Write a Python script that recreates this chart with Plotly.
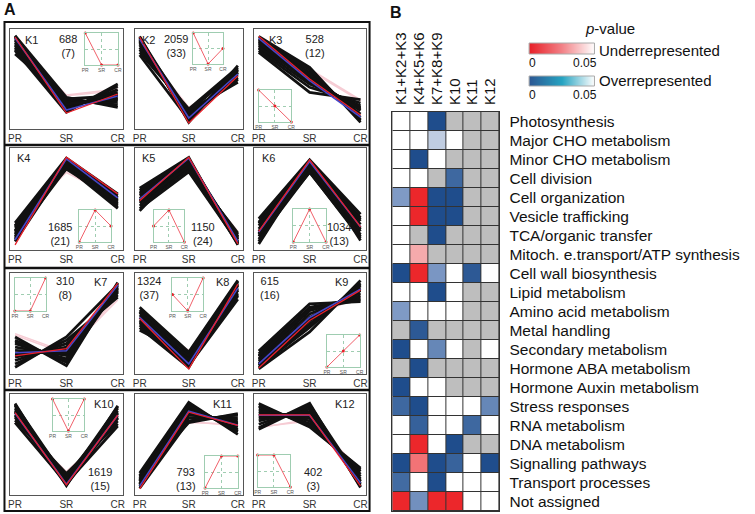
import plotly.graph_objects as go

W, H = 755, 514

# ---------------- Panel A data ----------------
stages = ["PR", "SR", "CR"]
cluster_names = ["K1", "K2", "K3", "K4", "K5", "K6", "K7", "K8", "K9", "K10", "K11", "K12"]
gene_counts = [688, 2059, 528, 1685, 1150, 1034, 310, 1324, 615, 1619, 793, 402]
tf_counts = [7, 33, 12, 21, 24, 13, 8, 37, 16, 15, 13, 3]

# member profiles (standardised expression) at PR, SR, CR
k1_pr = [1.30, 1.25, 1.20, 1.15, 1.10, 1.05, 1.00, 0.95, 0.90, 0.85, 0.75, 1.28]
k1_sr = [-0.55, -0.62, -0.68, -0.72, -0.78, -0.82, -0.86, -0.90, -0.95, -1.00, -0.60, -0.75]
k1_cr = [-0.85, -0.78, -0.70, -0.62, -0.55, -0.48, -0.40, -0.32, -0.22, -0.15, -0.50, -0.60]
k2_pr = [1.28, 1.22, 1.18, 1.12, 1.08, 1.02, 0.95, 0.88, 0.80, 0.72, 1.25, 1.15]
k2_sr = [-1.30, -1.25, -1.20, -1.15, -1.10, -1.05, -1.00, -0.95, -0.90, -1.22, -1.12, -0.98]
k2_cr = [0.40, 0.30, 0.25, 0.18, 0.12, 0.05, -0.02, -0.10, 0.35, 0.20, 0.00, 0.28]
k3_pr = [1.28, 1.22, 1.18, 1.12, 1.05, 1.00, 0.92, 0.85, 0.80, 1.15, 1.08, 0.95]
k3_sr = [0.35, 0.28, 0.20, 0.12, 0.05, -0.05, -0.15, -0.25, -0.40, 0.30, -0.10, 0.00]
k3_cr = [-1.30, -1.22, -1.15, -1.05, -0.95, -0.88, -0.80, -0.72, -0.62, -1.25, -0.85, -0.92]
k4_pr = [-0.70, -0.78, -0.85, -0.92, -1.00, -1.05, -1.10, -1.15, -1.20, -1.25, -0.80, -0.95]
k4_sr = [1.20, 1.15, 1.10, 1.05, 1.00, 0.95, 0.90, 1.18, 1.12, 1.02, 0.88, 0.98]
k4_cr = [0.15, 0.05, -0.05, -0.12, -0.20, -0.28, 0.10, 0.00, -0.15, -0.25, -0.08, 0.12]
k5_pr = [0.32, 0.25, 0.18, 0.10, 0.02, -0.05, -0.12, -0.20, -0.28, -0.35, 0.15, -0.08]
k5_sr = [1.22, 1.18, 1.12, 1.08, 1.02, 0.98, 0.92, 0.88, 0.80, 1.15, 1.05, 0.95]
k5_cr = [-1.35, -1.30, -1.25, -1.20, -1.15, -1.10, -1.05, -1.00, -1.28, -1.18, -1.12, -1.32]
k6_pr = [-0.58, -0.68, -0.78, -0.88, -0.95, -1.02, -1.10, -1.18, -1.25, -1.32, -0.72, -1.05]
k6_sr = [1.15, 1.10, 1.05, 1.00, 0.95, 0.90, 0.85, 0.80, 1.12, 1.02, 0.92, 0.78]
k6_cr = [-0.45, -0.55, -0.65, -0.75, -0.85, -0.95, -1.05, -1.15, -1.22, -0.60, -0.90, -1.10]
k7_pr = [-0.40, -0.50, -0.60, -0.70, -0.80, -0.90, -1.00, -1.10, -1.20, -1.30, -0.55, -0.95]
k7_sr = [-1.25, -1.15, -1.05, -0.95, -0.88, -0.80, -0.70, -0.60, -0.50, -0.40, -1.10, -0.75]
k7_cr = [1.22, 1.18, 1.12, 1.08, 1.02, 0.98, 0.92, 0.85, 0.78, 1.15, 1.05, 0.95]
k8_pr = [0.48, 0.40, 0.32, 0.25, 0.18, 0.10, 0.02, -0.05, -0.12, -0.20, 0.35, 0.05]
k8_sr = [-0.85, -0.92, -1.00, -1.05, -1.10, -1.15, -1.20, -1.25, -1.30, -0.95, -1.18, -1.08]
k8_cr = [1.28, 1.20, 1.12, 1.05, 0.98, 0.90, 0.82, 0.72, 1.15, 1.00, 0.85, 1.25]
k9_pr = [-0.82, -0.90, -0.98, -1.05, -1.12, -1.18, -1.25, -1.30, -1.35, -0.95, -1.08, -1.22]
k9_sr = [0.58, 0.48, 0.38, 0.28, 0.18, 0.08, -0.02, -0.12, -0.25, 0.42, 0.12, -0.05]
k9_cr = [0.65, 0.75, 0.82, 0.90, 0.98, 1.05, 1.12, 1.20, 1.28, 0.70, 1.00, 1.15]
k10_pr = [1.22, 1.15, 1.08, 1.02, 0.95, 0.88, 0.80, 0.72, 0.65, 1.18, 0.98, 0.85]
k10_sr = [-1.22, -1.18, -1.12, -1.08, -1.02, -0.98, -0.92, -0.86, -1.15, -1.05, -0.95, -1.20]
k10_cr = [1.15, 1.08, 1.00, 0.92, 0.85, 0.78, 0.70, 0.62, 0.55, 1.12, 0.95, 0.80]
k11_pr = [-0.85, -0.92, -1.00, -1.05, -1.10, -1.15, -1.20, -1.25, -1.30, -0.95, -1.08, -1.18]
k11_sr = [1.25, 1.18, 1.10, 1.05, 1.00, 0.95, 0.88, 0.80, 0.70, 0.65, 1.15, 0.92]
k11_cr = [0.30, 0.38, 0.45, 0.52, 0.58, 0.65, 0.72, 0.80, 0.88, 0.92, 0.40, 0.62]
k12_pr = [1.22, 1.12, 1.05, 0.98, 0.92, 0.85, 0.78, 0.70, 0.60, 0.50, 1.15, 0.45]
k12_sr = [0.52, 0.62, 0.70, 0.78, 0.82, 0.90, 0.98, 1.05, 1.12, 1.22, 0.58, 1.18]
k12_cr = [-0.70, -0.80, -0.88, -0.95, -1.02, -1.08, -1.15, -1.20, -1.25, -1.28, -0.75, -1.10]

# low-membership (pink) profiles
pink_profiles = [
    [[1.10, -0.48, -0.30], [1.00, -0.50, -0.35]],
    [[1.00, -0.85, 0.10], [0.90, -0.88, 0.05]],
    [[1.05, 0.30, -0.63], [0.95, 0.25, -0.66]],
    [[-0.70, 0.78, 0.00], [-0.75, 0.85, -0.10]],
    [[0.10, 0.78, -0.95], [0.05, 0.82, -0.98]],
    [[-0.80, 0.78, -0.50], [-0.90, 0.80, -0.55]],
    [[-0.30, -0.85, 0.70], [-0.35, -0.90, 0.80]],
    [[0.20, -0.80, 0.75], [0.10, -0.85, 0.80]],
    [[-1.00, 0.10, 0.85], [-0.95, 0.20, 0.80]],
    [[0.70, -0.80, 0.55], [0.65, -0.85, 0.60]],
    [[-1.10, 0.65, 0.60], [-1.00, 0.68, 0.55]],
    [[0.52, 0.70, -0.72], [0.50, 0.75, -0.75]],
]
# cluster mean (blue) and representative profile (red)
mean_profiles = [
    [1.23, -0.93, -0.51], [1.20, -1.17, 0.15], [1.22, -0.05, -1.14],
    [-1.20, 1.18, 0.03], [0.00, 1.20, -1.25], [-0.97, 1.10, -0.82],
    [-0.87, -0.81, 1.14], [0.18, -1.20, 1.05], [-1.20, 0.18, 1.02],
    [0.93, -1.18, 0.87], [-1.23, 0.99, 0.57], [0.87, 0.87, -1.14],
]
rep_profiles = [
    [1.26, -1.02, -0.45], [1.26, -1.32, 0.09], [1.28, 0.00, -1.08],
    [-1.35, 1.23, 0.15], [-0.05, 1.23, -1.32], [-0.95, 1.15, -0.82],
    [-0.96, -0.75, 1.20], [0.15, -1.35, 1.17], [-1.32, 0.09, 0.99],
    [0.95, -1.20, 0.87], [-1.32, 0.96, 0.57], [0.88, 0.88, -1.23],
]
# idealised patterns shown in the insets
inset_patterns = [
    [1, 0, 0], [1, 0, 0.5], [1, 0.5, 0],
    [0, 1, 0.5], [0.5, 1, 0], [0, 1, 0],
    [0, 0, 1], [0.5, 0, 1], [0, 0.5, 1],
    [1, 0, 1], [0, 1, 1], [1, 1, 0],
]

member_pr = [k1_pr, k2_pr, k3_pr, k4_pr, k5_pr, k6_pr, k7_pr, k8_pr, k9_pr, k10_pr, k11_pr, k12_pr]
member_sr = [k1_sr, k2_sr, k3_sr, k4_sr, k5_sr, k6_sr, k7_sr, k8_sr, k9_sr, k10_sr, k11_sr, k12_sr]
member_cr = [k1_cr, k2_cr, k3_cr, k4_cr, k5_cr, k6_cr, k7_cr, k8_cr, k9_cr, k10_cr, k11_cr, k12_cr]

# ---------------- Panel B data ----------------
groups = ["K1+K2+K3", "K4+K5+K6", "K7+K8+K9", "K10", "K11", "K12"]
categories = [
    "Photosynthesis", "Major CHO metabolism", "Minor CHO metabolism", "Cell division",
    "Cell organization", "Vesicle trafficking", "TCA/organic transfer",
    "Mitoch. e.transport/ATP synthesis", "Cell wall biosynthesis", "Lipid metabolism",
    "Amino acid metabolism", "Metal handling", "Secondary metabolism",
    "Hormone ABA metabolism", "Hormone Auxin metabolism", "Stress responses",
    "RNA metabolism", "DNA metabolism", "Signalling pathways", "Transport processes",
    "Not assigned",
]
# O = overrepresented, U = underrepresented, N = not significant, X = not tested
status = [
    "NNOXXX", "NNONXX", "NONXXX", "NNXOXX", "OUOOXX", "NUOOXX", "NXOXXX",
    "NUXXXX", "OUONON", "NNONXX", "ONNNXX", "XOXXXX", "ONONXN", "XOXXXX",
    "ONNXXX", "OONNNO", "NONNON", "NUNOXX", "OUOONO", "ONONNN", "UOUUNN",
]
pvals = [
    [None, None, 0.001, None, None, None],
    [None, None, 0.042, None, None, None],
    [None, 0.001, None, None, None, None],
    [None, None, None, 0.012, None, None],
    [0.028, 0.001, 0.001, 0.001, None, None],
    [None, 0.001, 0.001, 0.001, None, None],
    [None, None, 0.001, None, None, None],
    [None, 0.032, None, None, None, None],
    [0.001, 0.001, 0.027, None, 0.006, None],
    [None, None, 0.001, None, None, None],
    [0.028, None, None, None, None, None],
    [None, 0.006, None, None, None, None],
    [0.001, None, 0.022, None, None, None],
    [None, 0.001, None, None, None, None],
    [0.001, None, None, None, None, None],
    [0.012, 0.001, None, None, None, 0.022],
    [None, 0.009, None, None, 0.012, None],
    [None, 0.001, None, 0.001, None, None],
    [0.001, 0.018, 0.001, 0.010, None, 0.001],
    [0.013, None, 0.001, None, None, None],
    [0.001, 0.025, 0.001, 0.001, None, None],
]
legend_ticks = [0, 0.05]

# ---------------- build figure ----------------
FONT = "Liberation Sans, Arial, sans-serif"
fig = go.Figure()
layout = dict(
    width=W, height=H, margin=dict(l=0, r=0, t=0, b=0),
    paper_bgcolor="white", plot_bgcolor="rgba(0,0,0,0)", showlegend=False,
    font=dict(family=FONT, color="#222"),
)
annotations = []
shapes = []


def ann(text, x, y, size, color="#222", xanchor="center", bold=False):
    annotations.append(dict(
        text=text, x=x / W, y=1 - y / H, xref="paper", yref="paper",
        xanchor=xanchor, yanchor="middle", showarrow=False,
        font=dict(size=size, color=color, family=FONT,
                  weight="bold" if bold else "normal"),
    ))


col_px = [(7, 121), (133, 242), (253, 366)]
row_px = [(29, 129), (148, 250), (273, 374), (394, 495)]
inset_px = [
    (83, 116, 33, 65), (192, 222, 33, 64), (258, 291, 90, 122),
    (77, 109, 210, 242), (152, 183, 210, 242), (293, 326, 209, 242),
    (12, 43, 278, 311), (171, 202, 278, 311), (327, 360, 335, 367),
    (50, 82, 399, 431), (204, 237, 456, 488), (257, 290, 455, 487),
]
name_px = [(29, 40), (147, 40), (275, 40), (21, 158), (147, 158), (268, 158),
           (98, 282), (222, 282), (342, 282), (102, 404), (222, 404), (345, 404)]
count_px = [(66, 40), (175, 40), (315, 40), (58, 228), (202, 228), (339, 228),
            (63, 282), (147, 282), (270, 282), (98, 473), (185, 473), (313, 473)]
GRID_GREEN = "#9fcdb1"

for i in range(12):
    r, c = divmod(i, 3)
    n = i + 1
    sfx = "" if n == 1 else str(n)
    x0, x1 = col_px[c]
    y0, y1 = row_px[r]
    layout["xaxis" + sfx] = dict(
        domain=[x0 / W, x1 / W], anchor="y" + sfx, range=[-0.1, 2.1],
        tickvals=[0, 1, 2], ticktext=stages, ticks="", showgrid=False, zeroline=False,
        showline=True, mirror=True, linecolor="#555", linewidth=1.3,
        tickfont=dict(size=10, color="#333"), fixedrange=True,
    )
    layout["yaxis" + sfx] = dict(
        domain=[1 - y1 / H, 1 - y0 / H], anchor="x" + sfx, range=[-1.5, 1.5],
        showticklabels=False, showgrid=False, zeroline=False,
        showline=True, mirror=True, linecolor="#555", linewidth=1.3, fixedrange=True,
    )
    # pink lines
    xs, ys = [], []
    for prof in pink_profiles[i]:
        xs += [0, 1, 2, None]
        ys += list(prof) + [None]
    fig.add_trace(go.Scatter(x=xs, y=ys, mode="lines", xaxis="x" + sfx, yaxis="y" + sfx,
                             line=dict(color="#f6ccd4", width=1.5), hoverinfo="skip"))
    # black member lines
    xs, ys = [], []
    for a, b, cc in zip(member_pr[i], member_sr[i], member_cr[i]):
        xs += [0, 1, 2, None]
        ys += [a, b, cc, None]
    fig.add_trace(go.Scatter(x=xs, y=ys, mode="lines", xaxis="x" + sfx, yaxis="y" + sfx,
                             line=dict(color="#111", width=2.8), hoverinfo="skip"))
    fig.add_trace(go.Scatter(x=[0, 1, 2], y=mean_profiles[i], mode="lines",
                             xaxis="x" + sfx, yaxis="y" + sfx,
                             line=dict(color="#4646c8", width=1.6)))
    fig.add_trace(go.Scatter(x=[0, 1, 2], y=rep_profiles[i], mode="lines",
                             xaxis="x" + sfx, yaxis="y" + sfx,
                             line=dict(color="#e8202a", width=1.3)))

    # inset
    m = 13 + i
    ms = str(m)
    ix0, ix1, iy0, iy1 = inset_px[i]
    layout["xaxis" + ms] = dict(
        domain=[ix0 / W, ix1 / W], anchor="y" + ms, range=[0, 2],
        tickvals=[0, 1, 2], ticktext=stages, ticks="", showgrid=True,
        gridcolor=GRID_GREEN, griddash="dot", gridwidth=1, zeroline=False,
        showline=True, mirror=True, linecolor=GRID_GREEN, linewidth=0.7,
        tickfont=dict(size=5, color="#555"), fixedrange=True,
    )
    layout["yaxis" + ms] = dict(
        domain=[1 - iy1 / H, 1 - iy0 / H], anchor="x" + ms, range=[0, 1],
        tickvals=[0, 0.5, 1], showticklabels=False, showgrid=True,
        gridcolor=GRID_GREEN, griddash="dot", gridwidth=1, zeroline=False,
        showline=True, mirror=True, linecolor=GRID_GREEN, linewidth=0.7, fixedrange=True,
    )
    fig.add_trace(go.Scatter(x=[0, 1, 2], y=inset_patterns[i], mode="lines+markers",
                             xaxis="x" + ms, yaxis="y" + ms, cliponaxis=False,
                             line=dict(color="#f0606a", width=1),
                             marker=dict(color="#e8202a", size=3)))

    ann(cluster_names[i], name_px[i][0], name_px[i][1], 11)
    ann("%d<br>(%d)" % (gene_counts[i], tf_counts[i]), count_px[i][0], count_px[i][1] + 6, 11)

# panel A frame and row separators
shapes.append(dict(type="rect", xref="paper", yref="paper", x0=1.5 / W, x1=370 / W,
                   y0=1 - 511 / H, y1=1 - 22 / H, line=dict(color="#111", width=2)))
for ysep in [145, 268, 390]:
    shapes.append(dict(type="line", xref="paper", yref="paper", x0=1.5 / W, x1=370 / W,
                       y0=1 - ysep / H, y1=1 - ysep / H, line=dict(color="#111", width=2.5)))

# ---------------- Panel B heatmap ----------------
blue_stops = ["rgb(28,74,138)", "rgb(62,104,160)", "rgb(122,150,195)", "rgb(192,205,225)"]
red_stops = ["rgb(236,34,39)", "rgb(242,115,118)", "rgb(245,170,172)"]
cscale = [
    [0.0, blue_stops[0]], [0.012, blue_stops[1]], [0.027, blue_stops[2]],
    [0.042, blue_stops[3]], [0.05, "white"],
    [0.1, red_stops[0]], [0.118, red_stops[1]], [0.132, red_stops[2]], [0.15, "white"],
    [0.95, "white"], [1.0, "rgb(190,190,190)"],
]
zmat = []
for srow, prow in zip(status, pvals):
    zr = []
    for s, p in zip(srow, prow):
        if s == "O":
            zr.append(p)
        elif s == "U":
            zr.append(0.1 + p)
        elif s == "N":
            zr.append(0.5)
        else:
            zr.append(1.0)
    zmat.append(zr)

hx0, hx1, hy0, hy1 = 393, 501, 112, 511
layout["xaxis25"] = dict(
    domain=[hx0 / W, hx1 / W], anchor="y25", side="top", range=[-0.5, 5.5],
    tickvals=list(range(len(groups))), ticktext=groups, tickangle=-90, ticks="",
    tickfont=dict(size=15, color="#111"), showgrid=False, zeroline=False,
    showline=True, mirror=True, linecolor="#333", linewidth=1, ticklabelstandoff=3,
)
layout["yaxis25"] = dict(
    domain=[1 - hy1 / H, 1 - hy0 / H], anchor="x25", side="right",
    range=[len(categories) - 0.5, -0.5],
    tickvals=list(range(len(categories))), ticktext=categories, ticks="",
    tickfont=dict(size=15.5, color="#111"), showgrid=False, zeroline=False,
    showline=True, mirror=True, linecolor="#333", linewidth=1, ticklabelstandoff=6,
)
shapes.append(dict(type="rect", xref="paper", yref="paper", layer="below",
                   x0=hx0 / W, x1=hx1 / W, y0=1 - hy1 / H, y1=1 - hy0 / H,
                   fillcolor="#333", line=dict(width=0)))
fig.add_trace(go.Heatmap(
    z=zmat, x=list(range(len(groups))), y=list(range(len(categories))),
    xaxis="x25", yaxis="y25", colorscale=cscale, zmin=0, zmax=1,
    showscale=False, xgap=1, ygap=1, hoverinfo="skip",
))

# legend gradient bars
for k, (ly0, ly1, cs) in enumerate([
    (43, 54, [[0, "rgb(232,32,40)"], [0.5, "rgb(242,130,135)"], [1, "white"]]),
    (76, 86, [[0, "rgb(44,88,148)"], [0.5, "rgb(38,164,194)"], [1, "white"]]),
]):
    s = str(26 + k)
    layout["xaxis" + s] = dict(domain=[531 / W, 597 / W], anchor="y" + s,
                               range=[legend_ticks[0], legend_ticks[1]], visible=False)
    layout["yaxis" + s] = dict(domain=[1 - ly1 / H, 1 - ly0 / H], anchor="x" + s,
                               range=[-0.5, 0.5], visible=False)
    fig.add_trace(go.Heatmap(z=[legend_ticks], x=legend_ticks, y=[0], xaxis="x" + s,
                             yaxis="y" + s, colorscale=cs, zsmooth="best",
                             showscale=False, hoverinfo="skip"))
    shapes.append(dict(type="rect", xref="paper", yref="paper",
                       x0=531 / W, x1=597 / W, y0=1 - ly1 / H, y1=1 - ly0 / H,
                       line=dict(color="#aaa", width=1)))

ann("<i>p</i>-value", 613, 28, 15, color="#111")
ann("Underrepresented", 600, 51, 15, color="#111", xanchor="left")
ann("Overrepresented", 600, 80, 15, color="#111", xanchor="left")
for yy in [63, 95]:
    ann("0", 534, yy, 12, color="#111")
    ann("0.05", 587, yy, 12, color="#111")

ann("A", 7, 9, 16, color="#111", bold=True)
ann("B", 397, 12, 16, color="#111", bold=True)

layout["annotations"] = annotations
layout["shapes"] = shapes
fig.update_layout(**layout)
fig.write_html("out.html", config={"displayModeBar": False},
               post_script="document.body.style.margin='0';document.body.style.overflow='hidden';")
